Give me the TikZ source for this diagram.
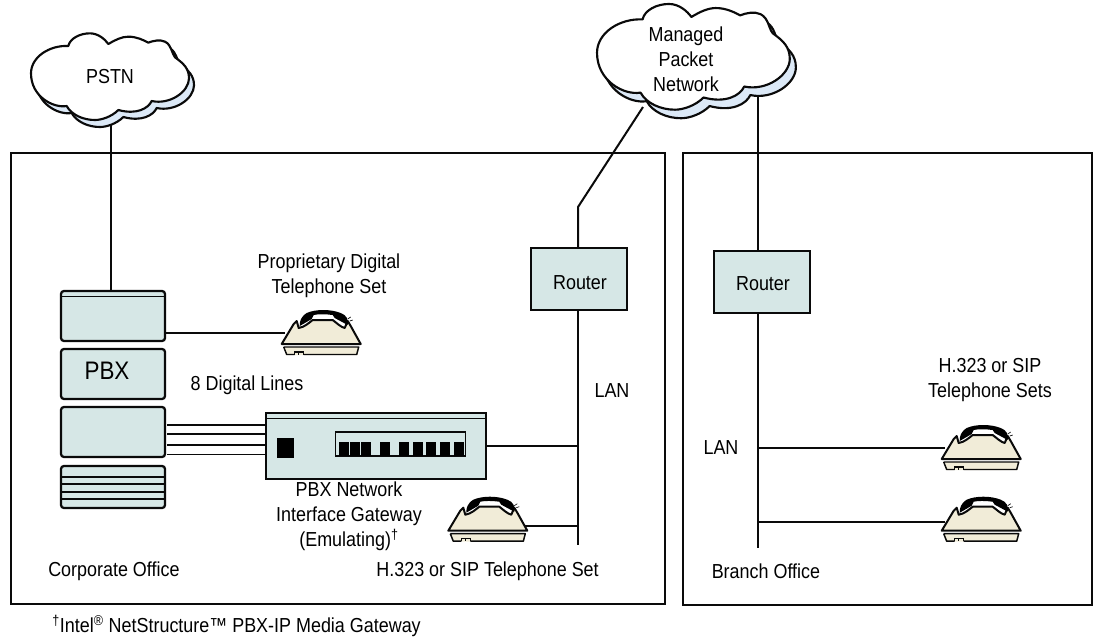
\documentclass[tikz,border=0pt]{standalone}
\usepackage{fontspec}
\setmainfont[FakeStretch=0.885]{Liberation Sans}
\definecolor{boxfill}{HTML}{D6E7E6}
\definecolor{phonefill}{HTML}{F1ECD8}
\definecolor{shadowfill}{HTML}{DCE9F7}
\definecolor{ink}{HTML}{0A0A0A}
\newcommand{\cloudpath}{(145,138) .. controls (150,115) and (180,100) .. (210,100) .. controls (235,100) and (255,118) .. (265,132) .. controls (285,120) and (305,110) .. (325,110) .. controls (350,110) and (370,120) .. (385,128) .. controls (400,122) and (420,118) .. (435,125) .. controls (455,135) and (455,160) .. (465,172) .. controls (490,190) and (507,205) .. (507,235) .. controls (507,275) and (450,315) .. (395,303) .. controls (385,325) and (350,345) .. (295,330) .. controls (275,350) and (245,360) .. (225,360) .. controls (190,360) and (155,345) .. (140,318) .. controls (100,325) and (33,290) .. (33,220) .. controls (33,170) and (90,135) .. (145,138) -- cycle}
\newcommand{\cloudat}[3]{%
  \begin{scope}[shift={(#1,#2)},x=#3*0.25pt,y=-#3*0.25pt]
    \filldraw[fill=shadowfill,draw=ink,line width=1.6pt,line join=round,shift={(15,21)}] \cloudpath;
    \filldraw[fill=white,draw=ink,line width=1.6pt,line join=round] \cloudpath;
  \end{scope}}
\tikzset{
  txt/.style={font=\fontsize{15.2}{18.75}\selectfont,text=black,align=center,inner sep=0pt},
  link/.style={draw=ink,line width=1.5pt},
  office/.style={draw=ink,line width=1.5pt},
  card/.style={draw=ink,fill=boxfill,line width=1.7pt,rounded corners=2.2pt,anchor=north west,inner sep=0pt,minimum width=78pt,outer sep=0pt},
  squarebox/.style={draw=ink,fill=boxfill,line width=1.7pt,anchor=north west,inner sep=0pt,outer sep=0pt},
  phonepic/.pic={
    \coordinate (-left) at (14,38);
    \coordinate (-right) at (87,44);
    \fill[phonefill] (13,52) -- (88,52) -- (87,60) -- (15,60) -- cycle;
    \draw[ink,line width=1.1pt,line join=round] (13,52) -- (88,52) -- (86,59.5) -- (33,59.5) (24,59.5) -- (16,59.5) -- (13,52);
    \draw[ink,line width=1pt] (24,59.5) -- (24,57) -- (28,57) -- (28,59.5) (28,57) -- (33,57) -- (33,59.5);
    \filldraw[fill=phonefill,draw=ink,line width=1.5pt,line join=round] (11,49) -- (23,29) -- (26,26) -- (28,33) .. controls (34,32) and (38,28) .. (42,25) -- (62,25) .. controls (66,28) and (70,32) .. (74,33) -- (77,26) -- (80,31) -- (90,49) -- cycle;
    \fill[black] (29,31) .. controls (29,26) and (30,22) .. (36,18) .. controls (45,14) and (60,14) .. (70,18) .. controls (76,20) and (78,25) .. (77,30) -- (64,23) -- (62,20) .. controls (55,19) and (47,19) .. (43,20) -- (41,24) -- cycle;
    \draw[ink,line width=.5pt] (77,24) -- (80,22) (79,26) -- (82,25);
  }
}
\begin{document}
\begin{tikzpicture}[x=0.75pt,y=-0.75pt]
\path[use as bounding box] (0,0) rectangle (1103,640);

% offices
\draw[office] (11,152.5) rectangle (665,604);
\draw[office] (683,153) rectangle (1092,605);

% nodes
\node[card,minimum height=37.5pt] (card1) at (61,291) {};
\node[card,minimum height=37.5pt] (card2) at (61,349) {};
\node[card,minimum height=37.5pt] (card3) at (61,407) {};
\node[card,minimum height=31.5pt] (card4) at (61,466) {};
\node[squarebox,minimum width=165pt,minimum height=49.5pt] (gw) at (266,413) {};
\node[squarebox,minimum width=72pt,minimum height=46.5pt] (routerL) at (531,248) {};
\node[squarebox,minimum width=72pt,minimum height=46.5pt] (routerR) at (714,251) {};

\draw[ink,line width=1.4pt] (61,296.5) -- (165,296.5);
\draw[ink,line width=1.4pt] (61,476.7) -- (165,476.7) (61,484.3) -- (165,484.3) (61,491.7) -- (165,491.7) (61,499.3) -- (165,499.3);
\draw[ink,line width=1.4pt] (266,418.5) -- (486,418.5);
\fill[black] (277,438) rectangle (294,458);
\draw[ink,line width=1pt] (335.7,432) rectangle (465.7,456);
\foreach \a/\b in {339.3/349,350/360,361/370.7,380.3/390,399.3/409,413.3/423,426/436,440/450,454/464}
  \fill[black] (\a,442) rectangle (\b,455.5);

% phones
\pic (ph1) at (270.7,295) {phonepic};
\pic (ph2) at (437.3,481.7) {phonepic};
\pic (ph3) at (930.7,410) {phonepic};
\pic (ph4) at (930.7,481.7) {phonepic};

% connection points
\coordinate (c1b) at (110.8,115);
\coordinate (c2l) at (643,107);
\coordinate (c2r) at (758,95);
\coordinate (bendL) at (578,207);
\coordinate (endL) at (578,545);
\coordinate (endR) at (758,548);
\coordinate (tapL1) at (578,446);
\coordinate (tapL2) at (578,525.7);
\coordinate (tapR1) at (758,448);
\coordinate (tapR2) at (758,521.7);

% connectors
\draw[link] (c1b) -- (c1b |- card1.north);
\draw[link] (c2l) -- (bendL) -- (bendL |- routerL.north);
\draw[link] (c2r) -- (c2r |- routerR.north);
\draw[link] (routerL.south -| endL) -- (endL);
\draw[link] (routerR.south -| endR) -- (endR);
\draw[link] (card1.east |- 0,333) -- (ph1-left |- 0,333);
\draw[link] (gw.east |- tapL1) -- (tapL1);
\draw[link] (ph2-right |- tapL2) -- (tapL2);
\draw[link] (tapR1) -- (ph3-left |- tapR1);
\draw[link] (tapR2) -- (ph4-left |- tapR2);
\draw[ink,line width=1.6pt] (167,424.7) -- (gw.west |- 0,424.7);
\draw[ink,line width=1.2pt] (167,434) -- (gw.west |- 0,434);
\draw[ink,line width=1.6pt] (167,445) -- (gw.west |- 0,445);
\draw[ink,line width=1.2pt] (167,454.3) -- (gw.west |- 0,454.3);

% clouds
\cloudat{20}{0}{1}
\cloudat{583.6}{-36.7}{1.22}

% labels
\node[txt] (tPSTN) at (110,77) {PSTN};
\node[txt] (tMPN) at (686,59) {Managed\\Packet\\Network};
\node[txt] (tProp) at (329,275.5) {Proprietary Digital\\Telephone Set};
\node[txt,font=\fontsize{19}{22}\selectfont] (tPBX) at (107,371) {PBX};
\node[txt] (t8) at (247,385) {8 Digital Lines};
\node[txt] (tGw) at (349,516.5) {PBX Network\\Interface Gateway\\(Emulating)\textsuperscript{†}};
\node[txt] (tRL) at (580,283) {Router};
\node[txt] (tRR) at (763,284) {Router};
\node[txt] (tLANl) at (612,391) {LAN};
\node[txt] (tLANr) at (721,448) {LAN};
\node[txt] (tSets) at (990,380) {H.323 or SIP\\Telephone Sets};
\node[txt,anchor=west] (tCorp) at (48,571) {Corporate Office};
\node[txt,anchor=east] (tSet) at (599,571) {H.323 or SIP Telephone Set};
\node[txt,anchor=west] (tBranch) at (711.5,571) {Branch Office};
\node[txt,anchor=west] (tFoot) at (52,626) {\textsuperscript{†}Intel\textsuperscript{®} NetStructure™ PBX-IP Media Gateway};
\end{tikzpicture}
\end{document}
